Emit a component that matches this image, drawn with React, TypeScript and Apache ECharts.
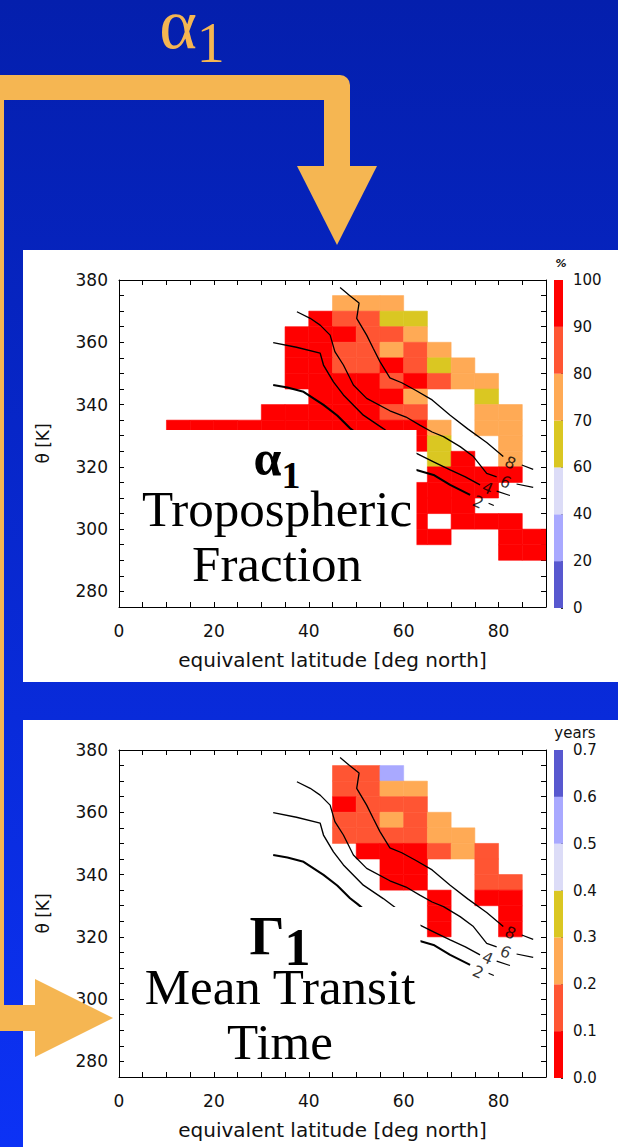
import React, { useEffect, useRef } from "react";
import * as echarts from "echarts";

// ---------------- data ----------------
const LAT_LABELS = [0, 20, 40, 60, 80];
const THETA_LABELS = [280, 300, 320, 340, 360, 380];
const BIN_LAT = 5;
const BIN_THETA = 5;

// colour scale for the tropospheric fraction (lowest bin first)
const FRACTION_COLORS = ["#5858CF", "#A9A9FF", "#DCDCF7", "#DAC722", "#FFAA55", "#FF5533", "#FF0000"];
const FRACTION_BOUNDS = [0, 20, 40, 60, 70, 80, 90, 100];
const FRACTION_TICKS = ["0", "20", "40", "60", "70", "80", "90", "100"];
// colour scale for the mean transit time (lowest bin first)
const TRANSIT_COLORS = ["#FF0000", "#FF5533", "#FFAA55", "#DAC722", "#DCDCF7", "#A9A9FF", "#5858CF"];
const TRANSIT_BOUNDS = [0, 0.1, 0.2, 0.3, 0.4, 0.5, 0.6, 0.7];
const TRANSIT_TICKS = ["0.0", "0.1", "0.2", "0.3", "0.4", "0.5", "0.6", "0.7"];

// [lat bin start, theta bin start, tropospheric fraction %]
const fractionCells = [
  [45, 370, 75], [50, 370, 76], [55, 370, 74],
  [40, 365, 95], [45, 365, 86], [50, 365, 85], [55, 365, 65], [60, 365, 66],
  [35, 360, 96], [40, 360, 95], [45, 360, 92], [50, 360, 85], [55, 360, 84], [60, 360, 75],
  [35, 355, 95], [40, 355, 94], [45, 355, 87], [50, 355, 86], [55, 355, 77], [60, 355, 85], [65, 355, 74],
  [35, 350, 97], [40, 350, 95], [45, 350, 86], [50, 350, 85], [55, 350, 92], [60, 350, 84], [65, 350, 65], [70, 350, 76],
  [35, 345, 96], [40, 345, 95], [45, 345, 94], [50, 345, 93], [55, 345, 85], [60, 345, 92], [65, 345, 84], [70, 345, 75], [75, 345, 74],
  [40, 340, 95], [45, 340, 94], [50, 340, 93], [55, 340, 92], [60, 340, 76], [75, 340, 64],
  [30, 335, 96], [35, 335, 95], [40, 335, 94], [45, 335, 93], [50, 335, 92], [55, 335, 85], [60, 335, 86], [75, 335, 75], [80, 335, 76],
  [10, 330, 93], [15, 330, 94], [20, 330, 95], [25, 330, 96], [30, 330, 95], [35, 330, 94], [40, 330, 95], [45, 330, 96], [50, 330, 95], [55, 330, 94], [60, 330, 95], [65, 330, 74], [75, 330, 75], [80, 330, 74],
  [60, 325, 95], [65, 325, 65], [80, 325, 76],
  [65, 320, 64], [70, 320, 95], [80, 320, 75],
  [65, 315, 96], [70, 315, 95], [75, 315, 94], [80, 315, 95],
  [60, 310, 96], [65, 310, 95], [70, 310, 94], [75, 310, 95],
  [60, 305, 95], [65, 305, 96], [70, 305, 94],
  [60, 300, 95], [70, 300, 96], [75, 300, 95], [80, 300, 94],
  [60, 295, 96], [65, 295, 95], [80, 295, 94], [85, 295, 95],
  [80, 290, 95], [85, 290, 96],
];

// [lat bin start, theta bin start, mean transit time in years]
const transitCells = [
  [45, 370, 0.15], [50, 370, 0.14], [55, 370, 0.55],
  [45, 365, 0.16], [50, 365, 0.15], [55, 365, 0.25], [60, 365, 0.26],
  [45, 360, 0.05], [50, 360, 0.15], [55, 360, 0.14], [60, 360, 0.16],
  [45, 355, 0.15], [50, 355, 0.16], [55, 355, 0.25], [60, 355, 0.15], [65, 355, 0.24],
  [45, 350, 0.14], [50, 350, 0.15], [55, 350, 0.16], [60, 350, 0.15], [65, 350, 0.25], [70, 350, 0.26],
  [50, 345, 0.05], [55, 345, 0.06], [60, 345, 0.04], [65, 345, 0.15], [70, 345, 0.25], [75, 345, 0.14],
  [55, 340, 0.05], [60, 340, 0.06], [75, 340, 0.15],
  [55, 335, 0.05], [60, 335, 0.04], [75, 335, 0.16], [80, 335, 0.15],
  [65, 330, 0.05], [75, 330, 0.06], [80, 330, 0.05],
  [65, 325, 0.04], [80, 325, 0.05],
  [65, 320, 0.06], [80, 320, 0.05],
];

// contour lines [lat, theta]
const contour8 = [[46.6, 377.6], [48.6, 375.0], [50.6, 372.6], [50.1, 367.7], [52.2, 362.3], [53.6, 358.0], [55.0, 353.8], [57.1, 348.6], [59.6, 347.0], [62.5, 344.6], [66.0, 341.5], [69.8, 336.6], [73.5, 332.2], [77.5, 327.8], [81.0, 323.3]];
const contour6 = [[37.5, 369.8], [40.3, 367.7], [42.4, 365.5], [44.5, 362.3], [45.5, 357.0], [47.3, 352.7], [49.4, 346.3], [52.2, 342.0], [57.1, 338.0], [60.5, 336.0], [63.4, 333.4], [66.0, 331.2], [68.4, 329.7], [71.9, 326.5], [74.7, 323.3], [77.5, 317.9], [79.6, 316.8]];
const contour4 = [[32.5, 359.9], [37.4, 358.4], [42.4, 356.5], [43.1, 352.7], [45.2, 347.3], [47.3, 343.1], [51.5, 336.6], [55.7, 332.3], [59.9, 327.5], [62.7, 324.3], [66.3, 321.6], [69.8, 319.0], [73.0, 316.8], [76.1, 314.2]];
const contour2 = [[32.5, 346.3], [35.5, 345.5], [38.9, 344.1], [43.1, 339.9], [46.0, 336.5], [48.7, 332.4], [50.3, 330.5], [54.3, 325.4], [59.9, 320.0], [62.7, 319.0], [66.3, 317.4], [69.8, 314.2], [74.0, 311.0]];
const dash8 = [[84.9, 320.6], [87.3, 319.2]];
const dash6 = [[83.8, 314.5], [87.3, 313.4]];
const dash4 = [[79.6, 312.2], [82.4, 310.8]];
const dash2 = [[77.9, 308.3], [79.0, 307.6]];
const contourLabels = [[82.5, 321.3, "8"], [81.5, 315.1, "6"], [77.7, 313.2, "4"], [75.7, 308.7, "2"]];

// ---------------- helpers ----------------
function colorOf(v: number, bounds: number[], palette: string[]) {
  for (let i = 0; i < bounds.length - 1; i++) {
    if (v >= bounds[i] && v < bounds[i + 1]) return palette[i];
  }
  return palette[palette.length - 1];
}

const SANS = "DejaVu Sans";
const SERIF = "Liberation Serif";
const ORANGE = "#F5B652";

function plotAxesX(grid: number) {
  const common = {
    type: "value", gridIndex: grid, min: 0, max: 90, interval: 5,
    axisLine: { show: true, onZero: false, lineStyle: { color: "#000", width: 1 } },
    axisTick: { show: true, inside: true, length: 5, lineStyle: { color: "#000", width: 1 } },
    splitLine: { show: false },
  };
  return [
    {
      ...common, position: "bottom",
      axisLabel: {
        show: true, margin: 15, fontFamily: SANS, fontSize: 17, color: "#111",
        formatter: (v: number) => (LAT_LABELS.includes(v) ? String(v) : ""),
      },
      name: "equivalent latitude [deg north]", nameLocation: "middle", nameGap: 43,
      nameTextStyle: { fontFamily: SANS, fontSize: 20, color: "#111" },
    },
    { ...common, position: "top", axisLabel: { show: false } },
  ];
}

function plotAxesY(grid: number) {
  const common = {
    type: "value", gridIndex: grid, min: 275, max: 380, interval: 5,
    axisLine: { show: true, onZero: false, lineStyle: { color: "#000", width: 1 } },
    axisTick: { show: true, inside: true, length: 5, lineStyle: { color: "#000", width: 1 } },
    splitLine: { show: false },
  };
  return [
    {
      ...common, position: "left",
      axisLabel: {
        show: true, margin: 11, fontFamily: SANS, fontSize: 17, color: "#111",
        formatter: (v: number) => (THETA_LABELS.includes(v) ? String(v) : ""),
      },
      name: "θ [K]", nameLocation: "middle", nameGap: 68,
      nameTextStyle: { fontFamily: SANS, fontSize: 17, color: "#111" },
    },
    { ...common, position: "right", axisLabel: { show: false } },
  ];
}

function cellSeries(data: number[][], bounds: number[], palette: string[], xi: number, yi: number) {
  return {
    type: "custom", xAxisIndex: xi, yAxisIndex: yi, data, encode: { x: 0, y: 1 }, z: 2, clip: true,
    renderItem: (_p: any, api: any) => {
      const lat = api.value(0), th = api.value(1), v = api.value(2);
      const a = api.coord([lat, th + BIN_THETA]);
      const b = api.coord([lat + BIN_LAT, th]);
      const c = colorOf(v, bounds, palette);
      return {
        type: "rect",
        shape: { x: a[0], y: a[1], width: b[0] - a[0], height: b[1] - a[1] },
        style: { fill: c, stroke: c, lineWidth: 0.6 },
      };
    },
  };
}

function contourSeries(xi: number, yi: number) {
  const lines: [number[][], number][] = [
    [contour8, 1.3], [contour6, 1.3], [contour4, 1.4], [contour2, 2.1],
    [dash8, 1.2], [dash6, 1.2], [dash4, 1.2], [dash2, 1.2],
  ];
  const s: any[] = lines.map(([pts, w]) => ({
    type: "line", xAxisIndex: xi, yAxisIndex: yi, data: pts, showSymbol: false, symbol: "none",
    lineStyle: { color: "#000", width: w }, z: 4, silent: true,
  }));
  s.push({
    type: "scatter", xAxisIndex: xi, yAxisIndex: yi, data: contourLabels, symbolSize: 1,
    itemStyle: { color: "rgba(0,0,0,0)" }, z: 5, silent: true,
    label: {
      show: true, position: "inside", formatter: (p: any) => p.data[2], rotate: -24,
      fontFamily: SANS, fontSize: 16, color: "#000",
    },
  });
  return s;
}

function colorbarSeries(palette: string[], xi: number, yi: number) {
  return {
    type: "custom", xAxisIndex: xi, yAxisIndex: yi, data: palette.map((_c, i) => [0, i]), z: 2,
    renderItem: (_p: any, api: any) => {
      const i = api.value(1);
      const top = api.coord([0, i + 1]);
      const bot = api.coord([0, i]);
      const w = api.size([1, 0])[0];
      return {
        type: "rect",
        shape: { x: top[0] - w / 2, y: top[1], width: w, height: bot[1] - top[1] },
        style: { fill: palette[i] },
      };
    },
  };
}

function colorbarAxes(grid: number, labels: string[]) {
  return {
    x: { type: "category", gridIndex: grid, data: [""], show: false, boundaryGap: true },
    y: {
      type: "value", gridIndex: grid, min: 0, max: 7, interval: 1, position: "right",
      axisLine: { show: false },
      axisTick: { show: true, inside: true, length: 2, lineStyle: { color: "#333" } },
      splitLine: { show: false },
      axisLabel: {
        show: true, margin: 10, fontFamily: SANS, fontSize: 15, color: "#111",
        formatter: (v: number) => labels[v] ?? "",
      },
    },
  };
}

// rich text block: a symbol with a subscript (first line), then caption lines
function labelBlock(
  x: number, y: number, fill: string,
  sym: { text: string; size: number; weight: string; lh: number },
  sub: { text: string; size: number },
  lines: { text: string; size: number; lh: number }[],
) {
  const rich: any = {
    sym: { fontFamily: SERIF, fontSize: sym.size, fontWeight: sym.weight, lineHeight: sym.lh, verticalAlign: "top", fill },
    sub: { fontFamily: SERIF, fontSize: sub.size, fontWeight: sym.weight, lineHeight: sub.size, verticalAlign: "bottom", fill },
  };
  const parts = [`{sym|${sym.text}}{sub|${sub.text}}`];
  lines.forEach((l, i) => {
    rich["l" + i] = { fontFamily: SERIF, fontSize: l.size, lineHeight: l.lh, fill };
    parts.push(`{l${i}|${l.text}}`);
  });
  return {
    type: "text", x, y, z: 30,
    style: { text: parts.join("\n"), rich, align: "center", verticalAlign: "middle", fill },
  };
}

function buildOption() {
  const grids = [
    { left: 119, top: 280, width: 427, height: 327 },
    { left: 119, top: 750, width: 427, height: 327 },
    { left: 554, top: 280, width: 9, height: 328 },
    { left: 554, top: 750, width: 9, height: 328 },
  ];
  const cbTop = colorbarAxes(2, FRACTION_TICKS);
  const cbBot = colorbarAxes(3, TRANSIT_TICKS);
  const xAxis = [...plotAxesX(0), ...plotAxesX(1), cbTop.x, cbBot.x];
  const yAxis = [...plotAxesY(0), ...plotAxesY(1), cbTop.y, cbBot.y];

  const series: any[] = [
    cellSeries(fractionCells, FRACTION_BOUNDS, FRACTION_COLORS, 0, 0),
    cellSeries(transitCells, TRANSIT_BOUNDS, TRANSIT_COLORS, 2, 2),
    ...contourSeries(0, 0),
    ...contourSeries(2, 2),
    colorbarSeries(FRACTION_COLORS, 4, 4),
    colorbarSeries(TRANSIT_COLORS, 5, 5),
  ];

  const bg = new echarts.graphic.LinearGradient(0, 0, 0, 1, [
    { offset: 0, color: "#041FAD" },
    { offset: 1, color: "#0C32F5" },
  ]);

  const graphic = [
    { type: "rect", z: -100, shape: { x: 0, y: 0, width: 618, height: 1147 }, style: { fill: bg } },
    { type: "rect", z: -90, shape: { x: 23, y: 250, width: 595, height: 432 }, style: { fill: "#fff" } },
    { type: "rect", z: -90, shape: { x: 23, y: 720, width: 595, height: 427 }, style: { fill: "#fff" } },
    // text boxes covering part of the panels
    { type: "rect", z: 20, shape: { x: 128, y: 430, width: 288.5, height: 170 }, style: { fill: "#fff" } },
    { type: "rect", z: 20, shape: { x: 128, y: 907, width: 292.5, height: 163 }, style: { fill: "#fff" } },
    labelBlock(277, 518.5, "#000",
      { text: "α", size: 50, weight: "bold", lh: 61 },
      { text: "1", size: 38 },
      [{ text: "Tropospheric", size: 51, lh: 30 }, { text: "Fraction", size: 51, lh: 80 }]),
    labelBlock(280, 996, "#000",
      { text: "Γ", size: 55, weight: "bold", lh: 65.5 },
      { text: "1", size: 52 },
      [{ text: "Mean Transit", size: 51, lh: 26 }, { text: "Time", size: 51, lh: 84 }]),
    // colour bar units
    { type: "text", x: 561, y: 263, z: 30, style: { text: "%", fill: "#111", fontSize: 11, fontWeight: "bold", fontStyle: "italic", fontFamily: SANS, align: "center", verticalAlign: "middle" } },
    { type: "text", x: 575, y: 733, z: 30, style: { text: "years", fill: "#111", fontSize: 15, fontFamily: SANS, align: "center", verticalAlign: "middle" } },
    // orange arrows
    { type: "rect", z: 40, shape: { x: 0, y: 75, width: 350, height: 25, r: [0, 10, 0, 0] }, style: { fill: ORANGE } },
    { type: "rect", z: 40, shape: { x: 324, y: 95, width: 26, height: 73 }, style: { fill: ORANGE } },
    { type: "polygon", z: 40, shape: { points: [[297, 166], [377, 166], [337, 245]] }, style: { fill: ORANGE } },
    { type: "rect", z: 40, shape: { x: 0, y: 90, width: 4, height: 930 }, style: { fill: ORANGE } },
    { type: "rect", z: 40, shape: { x: 0, y: 1005, width: 36, height: 26 }, style: { fill: ORANGE } },
    { type: "polygon", z: 40, shape: { points: [[35, 979], [35, 1057], [113, 1018]] }, style: { fill: ORANGE } },
    labelBlock(192, 29.5, ORANGE,
      { text: "α", size: 72, weight: "normal", lh: 83 },
      { text: "1", size: 56 },
      []),
  ];

  return {
    animation: false,
    backgroundColor: "transparent",
    grid: grids,
    xAxis,
    yAxis,
    series,
    graphic,
  };
}

export default function App() {
  const ref = useRef<HTMLDivElement>(null);
  useEffect(() => {
    if (!ref.current) return;
    const chart = echarts.init(ref.current, undefined, { renderer: "svg" });
    chart.setOption(buildOption() as any);
    return () => chart.dispose();
  }, []);
  return (
    <div
      ref={ref}
      style={{ position: "absolute", left: 0, top: 0, width: 618, height: 1147 }}
    />
  );
}
